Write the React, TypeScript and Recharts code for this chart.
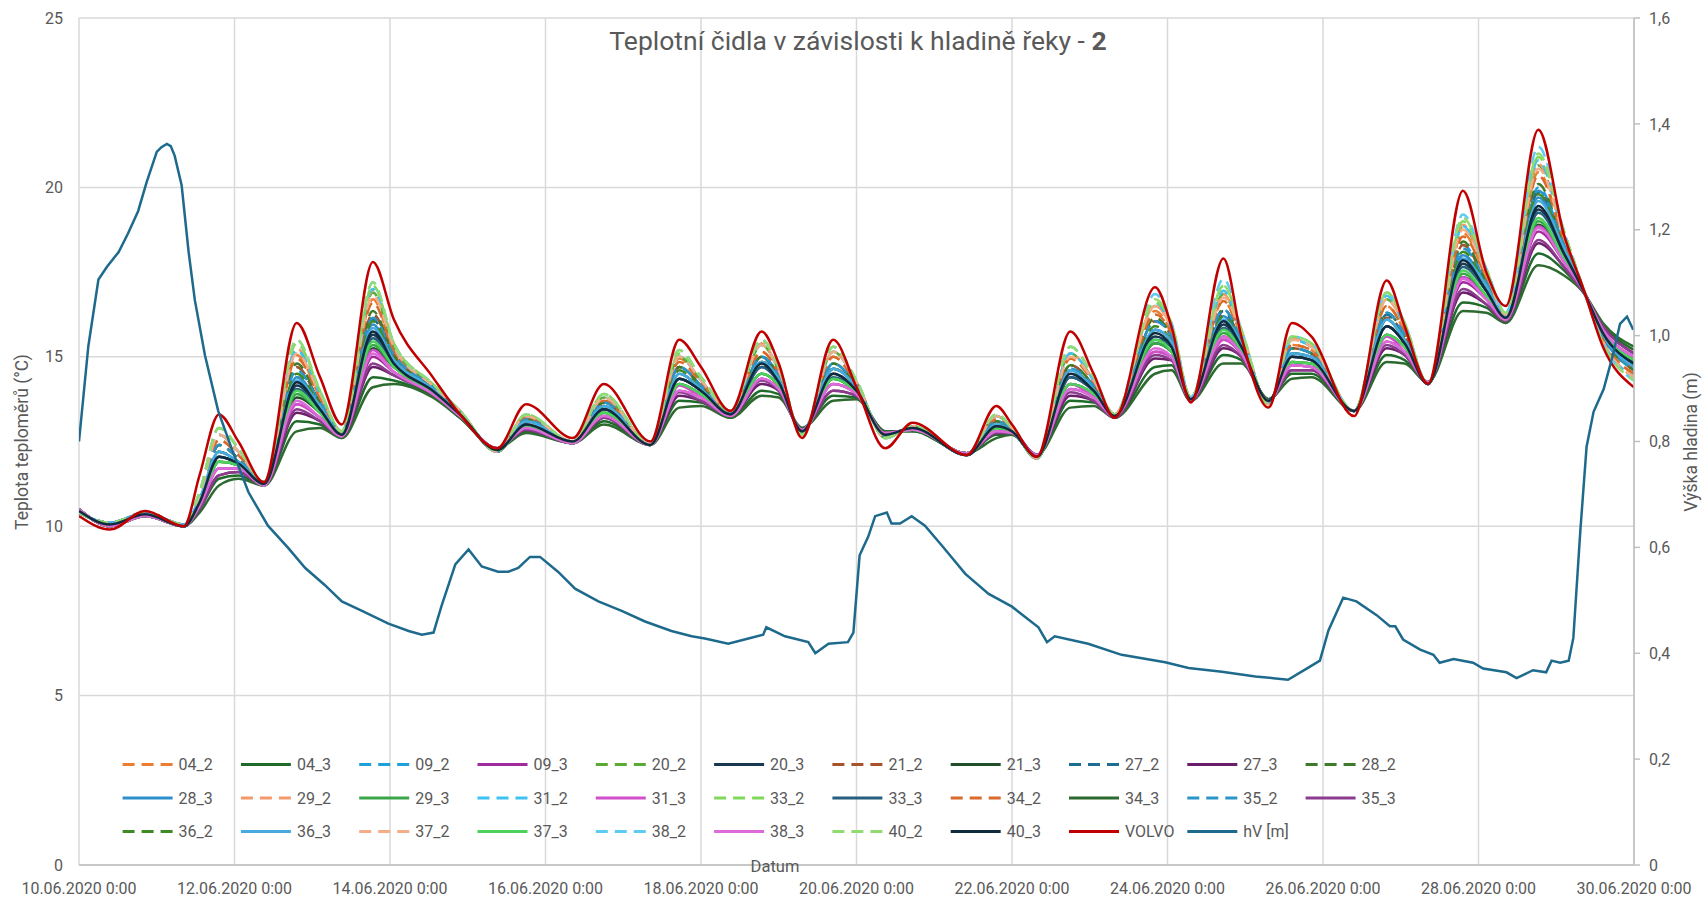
import React from 'react';
import { LineChart, Line, XAxis, YAxis, CartesianGrid } from 'recharts';

// tick labels
const dateLabels = [
  '10.06.2020 0:00', '12.06.2020 0:00', '14.06.2020 0:00', '16.06.2020 0:00',
  '18.06.2020 0:00', '20.06.2020 0:00', '22.06.2020 0:00', '24.06.2020 0:00',
  '26.06.2020 0:00', '28.06.2020 0:00', '30.06.2020 0:00',
];
const dayTicks = [0, 2, 4, 6, 8, 10, 12, 14, 16, 18, 20];
const tempTicks = [0, 5, 10, 15, 20, 25];
const levelTicks = [0, 0.2, 0.4, 0.6, 0.8, 1, 1.2, 1.4, 1.6];

// sample times (days since 10.06.2020 0:00) for the temperature sensors
const days = [
  0, 0.4, 0.85, 1.35, 1.55, 1.8, 2.05, 2.38, 2.8, 3.1,
  3.38, 3.78, 4.05, 4.55, 4.9, 5.38, 5.75, 6.35, 6.75, 7.35,
  7.72, 8.0, 8.38, 8.78, 9.0, 9.3, 9.7, 10.0, 10.37, 10.72,
  11.42, 11.8, 12.0, 12.32, 12.75, 13.05, 13.32, 13.84, 14.05, 14.3,
  14.72, 14.95, 15.3, 15.6, 15.85, 16.4, 16.82, 17.05, 17.35, 17.8,
  18.1, 18.35, 18.77, 19.1, 19.35, 19.6, 20.0,
];

const s04_2 = [10.4, 10.1, 10.4, 10.05, 10.9, 12.55, 12.1, 11.3, 15.05, 13.8, 12.75, 16.7, 15.15, 14.1, 13.35, 12.2, 13.2, 12.5, 13.7, 12.4, 14.95, 14.25, 13.35, 15.15, 14.5, 12.75, 15.0, 14.2, 12.65, 12.9, 12.1, 13.15, 12.85, 12.0, 14.95, 14.25, 13.3, 16.35, 15.7, 13.8, 16.65, 15.6, 13.65, 15.35, 15.2, 13.4, 16.5, 15.75, 14.2, 18.65, 17.35, 16.25, 20.45, 18.45, 17.0, 15.5, 14.5];
const s04_3 = [10.5, 10.0, 10.3, 10.0, 10.5, 11.4, 11.5, 11.2, 13.1, 13.0, 12.6, 14.4, 14.3, 13.85, 13.2, 12.3, 12.8, 12.45, 13.1, 12.4, 13.7, 13.65, 13.2, 14.0, 13.9, 12.9, 13.85, 13.8, 12.8, 12.8, 12.15, 12.7, 12.7, 12.1, 13.7, 13.65, 13.2, 14.7, 14.75, 13.7, 15.05, 14.9, 13.75, 14.5, 14.5, 13.4, 15.05, 14.9, 14.25, 16.6, 16.45, 16.0, 18.05, 17.55, 16.9, 15.95, 15.2];
const s09_2 = [10.4, 10.1, 10.4, 10.05, 10.8, 12.4, 12.0, 11.3, 14.7, 13.65, 12.75, 16.25, 15.05, 14.1, 13.35, 12.2, 13.15, 12.5, 13.65, 12.4, 14.7, 14.15, 13.35, 15.0, 14.45, 12.75, 14.8, 14.15, 12.65, 12.9, 12.1, 13.1, 12.85, 12.0, 14.75, 14.15, 13.25, 16.05, 15.6, 13.75, 16.4, 15.5, 13.65, 15.25, 15.1, 13.4, 16.3, 15.65, 14.2, 18.3, 17.2, 16.2, 20.0, 18.3, 16.95, 15.6, 14.6];
const s09_3 = [10.5, 10.0, 10.3, 10.0, 10.6, 11.7, 11.7, 11.2, 13.6, 13.2, 12.65, 15.0, 14.55, 13.9, 13.25, 12.3, 12.9, 12.45, 13.25, 12.4, 14.0, 13.8, 13.25, 14.35, 14.05, 12.85, 14.2, 13.9, 12.75, 12.85, 12.15, 12.8, 12.75, 12.1, 14.05, 13.8, 13.25, 15.15, 15.0, 13.75, 15.5, 15.1, 13.7, 14.75, 14.7, 13.4, 15.45, 15.15, 14.25, 17.2, 16.7, 16.1, 18.7, 17.8, 16.95, 15.8, 15.0];
const s20_2 = [10.4, 10.1, 10.4, 10.05, 10.9, 12.7, 12.2, 11.3, 15.2, 13.9, 12.8, 16.9, 15.3, 14.15, 13.4, 12.2, 13.25, 12.5, 13.8, 12.4, 15.0, 14.3, 13.4, 15.35, 14.6, 12.7, 15.15, 14.25, 12.6, 12.95, 12.1, 13.25, 12.9, 12.0, 15.1, 14.3, 13.3, 16.5, 15.85, 13.8, 16.85, 15.7, 13.6, 15.5, 15.3, 13.4, 16.7, 15.9, 14.2, 18.85, 17.45, 16.25, 20.65, 18.55, 17.0, 15.45, 14.4];
const s20_3 = [10.45, 10.05, 10.35, 10.0, 10.7, 12.05, 11.85, 11.25, 14.15, 13.45, 12.7, 15.65, 14.8, 14.0, 13.3, 12.25, 13.0, 12.5, 13.45, 12.4, 14.35, 14.0, 13.3, 14.7, 14.25, 12.8, 14.5, 14.0, 12.7, 12.9, 12.1, 12.95, 12.8, 12.05, 14.4, 14.0, 13.25, 15.6, 15.3, 13.75, 15.95, 15.3, 13.7, 15.0, 14.9, 13.4, 15.9, 15.4, 14.2, 17.75, 16.95, 16.15, 19.35, 18.05, 16.95, 15.7, 14.8];
const s21_2 = [10.4, 10.1, 10.4, 10.05, 10.8, 12.4, 12.0, 11.3, 14.7, 13.65, 12.75, 16.25, 15.05, 14.1, 13.35, 12.2, 13.15, 12.5, 13.65, 12.4, 14.7, 14.15, 13.35, 14.85, 14.45, 12.75, 14.65, 14.15, 12.65, 12.9, 12.1, 13.1, 12.85, 12.0, 14.75, 14.15, 13.25, 16.05, 15.6, 13.75, 16.25, 15.5, 13.65, 15.25, 15.1, 13.4, 16.15, 15.65, 14.2, 18.3, 17.2, 16.2, 19.85, 18.3, 16.95, 15.6, 14.6];
const s21_3 = [10.5, 10.0, 10.3, 10.0, 10.6, 11.9, 11.8, 11.2, 13.8, 13.35, 12.7, 15.25, 14.7, 13.95, 13.3, 12.25, 12.95, 12.45, 13.35, 12.4, 14.2, 13.9, 13.3, 14.5, 14.15, 12.8, 14.35, 13.95, 12.7, 12.85, 12.15, 12.9, 12.8, 12.05, 14.2, 13.9, 13.25, 15.4, 15.15, 13.75, 15.6, 15.2, 13.7, 14.85, 14.8, 13.4, 15.65, 15.3, 14.25, 17.35, 16.8, 16.1, 18.9, 17.9, 16.95, 15.75, 14.9];
const s27_2 = [10.4, 10.1, 10.4, 10.05, 10.8, 12.2, 11.9, 11.3, 14.4, 13.55, 12.7, 16.1, 14.9, 14.05, 13.3, 12.25, 13.1, 12.5, 13.55, 12.4, 14.5, 14.05, 13.3, 15.0, 14.35, 12.8, 14.65, 14.1, 12.7, 12.9, 12.1, 13.0, 12.8, 12.05, 14.6, 14.05, 13.25, 15.8, 15.45, 13.75, 16.35, 15.4, 13.65, 15.1, 15.0, 13.4, 16.25, 15.5, 14.2, 18.0, 17.1, 16.2, 19.85, 18.2, 16.95, 15.65, 14.7];
const s27_3 = [10.5, 10.0, 10.3, 10.0, 10.5, 11.5, 11.6, 11.2, 13.35, 13.1, 12.65, 14.7, 14.45, 13.9, 13.25, 12.3, 12.85, 12.45, 13.2, 12.4, 13.85, 13.7, 13.25, 14.2, 14.0, 12.85, 14.0, 13.85, 12.75, 12.85, 12.15, 12.75, 12.75, 12.1, 13.85, 13.7, 13.2, 14.95, 14.9, 13.7, 15.25, 15.0, 13.7, 14.6, 14.6, 13.4, 15.25, 15.05, 14.25, 16.9, 16.55, 16.05, 18.35, 17.65, 16.9, 15.9, 15.1];
const s28_2 = [10.4, 10.1, 10.4, 10.05, 10.8, 12.4, 12.0, 11.3, 14.8, 13.65, 12.75, 16.35, 15.05, 14.1, 13.35, 12.2, 13.15, 12.5, 13.65, 12.4, 14.7, 14.15, 13.35, 15.0, 14.45, 12.75, 14.8, 14.15, 12.65, 12.9, 12.1, 13.1, 12.85, 12.0, 14.75, 14.15, 13.25, 16.15, 15.6, 13.75, 16.4, 15.5, 13.65, 15.25, 15.1, 13.4, 16.3, 15.65, 14.2, 18.4, 17.2, 16.2, 20.1, 18.3, 16.95, 15.6, 14.6];
const s28_3 = [10.4, 10.1, 10.4, 10.05, 10.8, 12.2, 11.9, 11.3, 14.4, 13.55, 12.7, 15.95, 14.9, 14.05, 13.3, 12.25, 13.1, 12.5, 13.55, 12.4, 14.5, 14.05, 13.3, 14.85, 14.35, 12.8, 14.65, 14.1, 12.7, 12.9, 12.1, 13.0, 12.8, 12.05, 14.6, 14.05, 13.25, 15.8, 15.45, 13.75, 16.2, 15.4, 13.65, 15.1, 15.0, 13.4, 16.1, 15.5, 14.2, 18.0, 17.1, 16.2, 19.7, 18.2, 16.95, 15.65, 14.7];
const s29_2 = [10.4, 10.1, 10.4, 10.05, 10.9, 12.7, 12.2, 11.3, 15.25, 13.9, 12.8, 16.95, 15.3, 14.15, 13.4, 12.2, 13.25, 12.5, 13.8, 12.4, 15.0, 14.3, 13.4, 15.4, 14.6, 12.7, 15.15, 14.25, 12.6, 12.95, 12.1, 13.25, 12.9, 12.0, 15.1, 14.3, 13.3, 16.5, 15.85, 13.8, 16.85, 15.7, 13.6, 15.55, 15.3, 13.4, 16.7, 15.9, 14.2, 18.9, 17.45, 16.25, 20.7, 18.55, 17.0, 15.45, 14.4];
const s29_3 = [10.5, 10.0, 10.3, 10.0, 10.6, 11.9, 11.8, 11.2, 13.9, 13.35, 12.7, 15.35, 14.7, 13.95, 13.3, 12.25, 12.95, 12.45, 13.35, 12.4, 14.2, 13.9, 13.3, 14.5, 14.15, 12.8, 14.35, 13.95, 12.7, 12.85, 12.15, 12.9, 12.8, 12.05, 14.2, 13.9, 13.25, 15.4, 15.15, 13.75, 15.7, 15.2, 13.7, 14.85, 14.8, 13.4, 15.65, 15.3, 14.25, 17.45, 16.8, 16.1, 19.0, 17.9, 16.95, 15.75, 14.9];
const s31_2 = [10.4, 10.1, 10.4, 10.05, 10.9, 12.7, 12.2, 11.3, 15.2, 13.9, 12.8, 17.0, 15.3, 14.15, 13.4, 12.2, 13.25, 12.5, 13.8, 12.4, 15.0, 14.3, 13.4, 15.35, 14.6, 12.7, 15.15, 14.25, 12.6, 12.95, 12.1, 13.25, 12.9, 12.0, 15.1, 14.3, 13.3, 16.6, 15.85, 13.8, 16.95, 15.7, 13.6, 15.5, 15.3, 13.4, 16.8, 15.9, 14.2, 18.85, 17.45, 16.25, 20.8, 18.55, 17.0, 15.45, 14.4];
const s31_3 = [10.5, 10.0, 10.3, 10.0, 10.6, 11.7, 11.7, 11.2, 13.6, 13.2, 12.65, 15.2, 14.55, 13.9, 13.25, 12.3, 12.9, 12.45, 13.25, 12.4, 14.15, 13.8, 13.25, 14.35, 14.05, 12.85, 14.2, 13.9, 12.75, 12.85, 12.15, 12.8, 12.75, 12.1, 14.2, 13.8, 13.25, 15.15, 15.0, 13.75, 15.5, 15.1, 13.7, 14.75, 14.7, 13.4, 15.6, 15.15, 14.25, 17.35, 16.7, 16.1, 18.85, 17.8, 16.95, 15.8, 15.0];
const s33_2 = [10.4, 10.1, 10.4, 10.05, 11.0, 12.9, 12.3, 11.3, 15.4, 14.0, 12.8, 17.1, 15.4, 14.2, 13.4, 12.2, 13.3, 12.5, 13.9, 12.4, 15.1, 14.4, 13.4, 15.5, 14.7, 12.7, 15.3, 14.3, 12.6, 12.95, 12.1, 13.3, 12.9, 12.0, 15.3, 14.4, 13.3, 16.6, 16.0, 13.8, 17.1, 15.8, 13.6, 15.6, 15.4, 13.4, 16.9, 16.0, 14.2, 19.0, 17.6, 16.3, 20.9, 18.7, 17.0, 15.4, 14.3];
const s33_3 = [10.45, 10.05, 10.35, 10.0, 10.7, 12.05, 11.85, 11.25, 14.05, 13.45, 12.7, 15.55, 14.8, 14.0, 13.3, 12.25, 13.0, 12.5, 13.45, 12.4, 14.35, 14.0, 13.3, 14.7, 14.25, 12.8, 14.4, 14.0, 12.7, 12.9, 12.1, 12.95, 12.8, 12.05, 14.4, 14.0, 13.25, 15.5, 15.3, 13.75, 15.85, 15.3, 13.7, 15.0, 14.9, 13.4, 15.9, 15.4, 14.2, 17.65, 16.95, 16.15, 19.25, 18.05, 16.95, 15.7, 14.8];
const s34_2 = [10.4, 10.1, 10.4, 10.05, 10.9, 12.55, 12.1, 11.3, 14.95, 13.8, 12.75, 16.6, 15.15, 14.1, 13.35, 12.2, 13.2, 12.5, 13.7, 12.4, 14.85, 14.25, 13.35, 15.15, 14.5, 12.75, 15.0, 14.2, 12.65, 12.9, 12.1, 13.15, 12.85, 12.0, 14.95, 14.25, 13.3, 16.25, 15.7, 13.8, 16.65, 15.6, 13.65, 15.35, 15.2, 13.4, 16.5, 15.75, 14.2, 18.55, 17.35, 16.25, 20.35, 18.45, 17.0, 15.5, 14.5];
const s34_3 = [10.5, 10.0, 10.3, 10.0, 10.4, 11.2, 11.4, 11.2, 12.8, 12.9, 12.6, 14.1, 14.2, 13.8, 13.2, 12.3, 12.75, 12.45, 13.0, 12.4, 13.5, 13.55, 13.2, 13.85, 13.8, 12.9, 13.7, 13.75, 12.8, 12.8, 12.15, 12.6, 12.7, 12.1, 13.5, 13.55, 13.2, 14.5, 14.6, 13.7, 14.8, 14.8, 13.75, 14.35, 14.4, 13.4, 14.85, 14.8, 14.25, 16.35, 16.3, 16.0, 17.7, 17.4, 16.9, 16.0, 15.3];
const s35_2 = [10.4, 10.1, 10.4, 10.05, 10.8, 12.4, 12.0, 11.3, 14.6, 13.65, 12.75, 16.15, 15.05, 14.1, 13.35, 12.2, 13.15, 12.5, 13.65, 12.4, 14.7, 14.15, 13.35, 15.0, 14.45, 12.75, 14.8, 14.15, 12.65, 12.9, 12.1, 13.1, 12.85, 12.0, 14.65, 14.15, 13.25, 16.05, 15.6, 13.75, 16.4, 15.5, 13.65, 15.25, 15.1, 13.4, 16.3, 15.65, 14.2, 18.2, 17.2, 16.2, 19.9, 18.3, 16.95, 15.6, 14.6];
const s35_3 = [10.5, 10.0, 10.3, 10.0, 10.5, 11.5, 11.6, 11.2, 13.45, 13.1, 12.65, 14.8, 14.45, 13.9, 13.25, 12.3, 12.85, 12.45, 13.2, 12.4, 13.95, 13.7, 13.25, 14.3, 14.0, 12.85, 14.0, 13.85, 12.75, 12.85, 12.15, 12.75, 12.75, 12.1, 13.95, 13.7, 13.2, 15.05, 14.9, 13.7, 15.35, 15.0, 13.7, 14.6, 14.6, 13.4, 15.35, 15.05, 14.25, 17.0, 16.55, 16.05, 18.45, 17.65, 16.9, 15.9, 15.1];
const s36_2 = [10.4, 10.1, 10.4, 10.05, 10.8, 12.2, 11.9, 11.3, 14.5, 13.55, 12.7, 16.05, 14.9, 14.05, 13.3, 12.25, 13.1, 12.5, 13.55, 12.4, 14.6, 14.05, 13.3, 14.85, 14.35, 12.8, 14.65, 14.1, 12.7, 12.9, 12.1, 13.0, 12.8, 12.05, 14.6, 14.05, 13.25, 15.9, 15.45, 13.75, 16.2, 15.4, 13.65, 15.1, 15.0, 13.4, 16.1, 15.5, 14.2, 18.1, 17.1, 16.2, 19.8, 18.2, 16.95, 15.65, 14.7];
const s36_3 = [10.4, 10.1, 10.4, 10.05, 10.8, 12.2, 11.9, 11.3, 14.3, 13.55, 12.7, 15.85, 14.9, 14.05, 13.3, 12.25, 13.1, 12.5, 13.55, 12.4, 14.5, 14.05, 13.3, 14.85, 14.35, 12.8, 14.65, 14.1, 12.7, 12.9, 12.1, 13.0, 12.8, 12.05, 14.6, 14.05, 13.25, 15.8, 15.45, 13.75, 16.1, 15.4, 13.65, 15.1, 15.0, 13.4, 16.1, 15.5, 14.2, 17.9, 17.1, 16.2, 19.6, 18.2, 16.95, 15.65, 14.7];
const s37_2 = [10.4, 10.1, 10.4, 10.05, 10.9, 12.7, 12.2, 11.3, 15.1, 13.9, 12.8, 16.8, 15.3, 14.15, 13.4, 12.2, 13.25, 12.5, 13.8, 12.4, 15.0, 14.3, 13.4, 15.35, 14.6, 12.7, 15.15, 14.25, 12.6, 12.95, 12.1, 13.25, 12.9, 12.0, 15.0, 14.3, 13.3, 16.5, 15.85, 13.8, 16.75, 15.7, 13.6, 15.5, 15.3, 13.4, 16.7, 15.9, 14.2, 18.75, 17.45, 16.25, 20.55, 18.55, 17.0, 15.45, 14.4];
const s37_3 = [10.5, 10.0, 10.3, 10.0, 10.6, 11.9, 11.8, 11.2, 14.0, 13.35, 12.7, 15.45, 14.7, 13.95, 13.3, 12.25, 12.95, 12.45, 13.35, 12.4, 14.2, 13.9, 13.3, 14.5, 14.15, 12.8, 14.35, 13.95, 12.7, 12.85, 12.15, 12.9, 12.8, 12.05, 14.2, 13.9, 13.25, 15.5, 15.15, 13.75, 15.8, 15.2, 13.7, 14.85, 14.8, 13.4, 15.65, 15.3, 14.25, 17.55, 16.8, 16.1, 19.1, 17.9, 16.95, 15.75, 14.9];
const s38_2 = [10.4, 10.1, 10.4, 10.05, 11.0, 12.9, 12.3, 11.3, 15.5, 14.0, 12.8, 17.2, 15.4, 14.2, 13.4, 12.2, 13.3, 12.5, 13.9, 12.4, 15.2, 14.4, 13.4, 15.5, 14.7, 12.7, 15.3, 14.3, 12.6, 12.95, 12.1, 13.3, 12.9, 12.0, 15.3, 14.4, 13.3, 16.85, 16.0, 13.8, 17.3, 15.8, 13.6, 15.6, 15.4, 13.4, 16.9, 16.0, 14.2, 19.2, 17.6, 16.3, 21.2, 18.7, 17.0, 15.4, 14.3];
const s38_3 = [10.5, 10.0, 10.3, 10.0, 10.6, 11.7, 11.7, 11.2, 13.7, 13.2, 12.65, 15.1, 14.55, 13.9, 13.25, 12.3, 12.9, 12.45, 13.25, 12.4, 14.0, 13.8, 13.25, 14.35, 14.05, 12.85, 14.2, 13.9, 12.75, 12.85, 12.15, 12.8, 12.75, 12.1, 14.05, 13.8, 13.25, 15.25, 15.0, 13.75, 15.6, 15.1, 13.7, 14.75, 14.7, 13.4, 15.45, 15.15, 14.25, 17.3, 16.7, 16.1, 18.8, 17.8, 16.95, 15.8, 15.0];
const s40_2 = [10.4, 10.1, 10.4, 10.05, 11.0, 12.9, 12.3, 11.3, 15.5, 14.0, 12.8, 17.2, 15.4, 14.2, 13.4, 12.2, 13.3, 12.5, 13.9, 12.4, 15.2, 14.4, 13.4, 15.5, 14.7, 12.7, 15.3, 14.3, 12.6, 12.95, 12.1, 13.3, 12.9, 12.0, 15.3, 14.4, 13.3, 16.7, 16.0, 13.8, 17.1, 15.8, 13.6, 15.6, 15.4, 13.4, 16.9, 16.0, 14.2, 19.1, 17.6, 16.3, 21.0, 18.7, 17.0, 15.4, 14.3];
const s40_3 = [10.45, 10.05, 10.35, 10.0, 10.7, 12.05, 11.85, 11.25, 14.25, 13.45, 12.7, 15.75, 14.8, 14.0, 13.3, 12.25, 13.0, 12.5, 13.45, 12.4, 14.35, 14.0, 13.3, 14.8, 14.25, 12.8, 14.5, 14.0, 12.7, 12.9, 12.1, 12.95, 12.8, 12.05, 14.5, 14.0, 13.25, 15.7, 15.3, 13.75, 16.05, 15.3, 13.7, 15.0, 14.9, 13.4, 15.9, 15.4, 14.2, 17.85, 16.95, 16.15, 19.45, 18.05, 16.95, 15.7, 14.8];
const volvo = [10.3, 9.9, 10.45, 10.0, 11.5, 13.3, 12.5, 11.3, 16.0, 14.4, 13.0, 17.8, 16.1, 14.4, 13.3, 12.3, 13.6, 12.6, 14.2, 12.5, 15.5, 14.7, 13.4, 15.75, 14.8, 12.6, 15.5, 14.1, 12.3, 13.05, 12.1, 13.55, 13.0, 12.05, 15.75, 14.5, 13.2, 17.05, 15.9, 13.65, 17.9, 15.6, 13.5, 16.0, 15.6, 13.25, 17.25, 15.9, 14.2, 19.9, 17.5, 16.5, 21.7, 18.6, 17.0, 15.3, 14.1];

// river level hV [m], own time base
const hvDays = [
  0, 0.12, 0.25, 0.36, 0.51, 0.63, 0.76, 0.87, 1.0, 1.06, 1.13, 1.18, 1.23, 1.32, 1.41, 1.49, 1.62, 1.79, 1.96,
  2.18, 2.43, 2.69, 2.91, 3.16, 3.38, 3.64, 3.98, 4.24, 4.41, 4.56, 4.66, 4.84, 5.01, 5.18, 5.39,
  5.52, 5.65, 5.8, 5.93, 6.16, 6.38, 6.68, 6.98, 7.28, 7.62, 7.88, 8.05, 8.35, 8.61, 8.8, 8.84,
  9.08, 9.38, 9.47, 9.64, 9.89, 9.96, 10.04, 10.15, 10.24, 10.39, 10.45, 10.56, 10.71, 10.88, 11.1,
  11.4, 11.7, 12.0, 12.34, 12.45, 12.55, 12.98, 13.41, 13.97, 14.27, 14.7, 15.13, 15.36, 15.55,
  15.79, 15.96, 16.07, 16.26, 16.43, 16.69, 16.86, 16.93, 17.03, 17.25, 17.42, 17.5, 17.68, 17.93,
  18.06, 18.36, 18.49, 18.7, 18.87, 18.94, 19.05, 19.16, 19.22, 19.31, 19.39, 19.48, 19.61, 19.73,
  19.82, 19.91, 19.99,
];
const hvLevel = [
  0.8, 0.98, 1.106, 1.13, 1.158, 1.193, 1.235, 1.29, 1.347, 1.356, 1.362, 1.358, 1.34, 1.284, 1.158, 1.067, 0.963, 0.858, 0.788,
  0.704, 0.641, 0.599, 0.561, 0.529, 0.498, 0.48, 0.456, 0.442, 0.435, 0.439, 0.488, 0.568, 0.596, 0.564, 0.554,
  0.554, 0.561, 0.582, 0.582, 0.554, 0.522, 0.498, 0.48, 0.46, 0.442, 0.432, 0.428, 0.418, 0.428, 0.435, 0.449,
  0.432, 0.421, 0.4, 0.418, 0.421, 0.439, 0.585, 0.62, 0.659, 0.666, 0.645, 0.645, 0.659, 0.641, 0.603,
  0.55, 0.512, 0.488, 0.449, 0.421, 0.432, 0.418, 0.397, 0.383, 0.372, 0.365, 0.356, 0.353, 0.35,
  0.371, 0.386, 0.443, 0.505, 0.498, 0.472, 0.451, 0.451, 0.426, 0.407, 0.397, 0.382, 0.389, 0.382,
  0.371, 0.364, 0.353, 0.368, 0.364, 0.386, 0.382, 0.386, 0.429, 0.632, 0.79, 0.856, 0.899, 0.964,
  1.022, 1.036, 1.011,
];

const series = [
  { key: 's04_2', name: '04_2', color: '#ED7D31', dashed: true, values: s04_2 },
  { key: 's04_3', name: '04_3', color: '#1F6B2A', dashed: false, values: s04_3 },
  { key: 's09_2', name: '09_2', color: '#1FA0DA', dashed: true, values: s09_2 },
  { key: 's09_3', name: '09_3', color: '#A12B9C', dashed: false, values: s09_3 },
  { key: 's20_2', name: '20_2', color: '#5BAA34', dashed: true, values: s20_2 },
  { key: 's20_3', name: '20_3', color: '#173A52', dashed: false, values: s20_3 },
  { key: 's21_2', name: '21_2', color: '#A8522A', dashed: true, values: s21_2 },
  { key: 's21_3', name: '21_3', color: '#22502A', dashed: false, values: s21_3 },
  { key: 's27_2', name: '27_2', color: '#1C6F91', dashed: true, values: s27_2 },
  { key: 's27_3', name: '27_3', color: '#6B1F6B', dashed: false, values: s27_3 },
  { key: 's28_2', name: '28_2', color: '#3E7A2A', dashed: true, values: s28_2 },
  { key: 's28_3', name: '28_3', color: '#2E8FCB', dashed: false, values: s28_3 },
  { key: 's29_2', name: '29_2', color: '#F29A6A', dashed: true, values: s29_2 },
  { key: 's29_3', name: '29_3', color: '#3AA64A', dashed: false, values: s29_3 },
  { key: 's31_2', name: '31_2', color: '#3EC1F3', dashed: true, values: s31_2 },
  { key: 's31_3', name: '31_3', color: '#D24FCB', dashed: false, values: s31_3 },
  { key: 's33_2', name: '33_2', color: '#7FD85A', dashed: true, values: s33_2 },
  { key: 's33_3', name: '33_3', color: '#275F7F', dashed: false, values: s33_3 },
  { key: 's34_2', name: '34_2', color: '#D96A2B', dashed: true, values: s34_2 },
  { key: 's34_3', name: '34_3', color: '#2D6A2F', dashed: false, values: s34_3 },
  { key: 's35_2', name: '35_2', color: '#2A95C8', dashed: true, values: s35_2 },
  { key: 's35_3', name: '35_3', color: '#8B3C8D', dashed: false, values: s35_3 },
  { key: 's36_2', name: '36_2', color: '#3F8A25', dashed: true, values: s36_2 },
  { key: 's36_3', name: '36_3', color: '#47ABE0', dashed: false, values: s36_3 },
  { key: 's37_2', name: '37_2', color: '#F4AD87', dashed: true, values: s37_2 },
  { key: 's37_3', name: '37_3', color: '#4CD15B', dashed: false, values: s37_3 },
  { key: 's38_2', name: '38_2', color: '#5ECBF3', dashed: true, values: s38_2 },
  { key: 's38_3', name: '38_3', color: '#DC6AD8', dashed: false, values: s38_3 },
  { key: 's40_2', name: '40_2', color: '#92DB70', dashed: true, values: s40_2 },
  { key: 's40_3', name: '40_3', color: '#0F2B3D', dashed: false, values: s40_3 },
  { key: 'volvo', name: 'VOLVO', color: '#C00000', dashed: false, values: volvo },
];
const hvColor = '#1E6A8D';

const tempRows = days.map((t, i) => {
  const row: Record<string, number> = { t };
  series.forEach((s) => {
    row[s.key] = s.values[i];
  });
  return row;
});
const hvRows = hvDays.map((t, i) => ({ t, hv: hvLevel[i] }));

const legendItems = [
  ...series.map((s) => ({ name: s.name, color: s.color, dashed: s.dashed })),
  { name: 'hV [m]', color: hvColor, dashed: false },
];

const DASH = '12 7';
const textColor = '#595959';
const fontFamily = 'Roboto, "Noto Sans", sans-serif';

function ChartLegend() {
  return (
    <g>
      {legendItems.map((item, i) => {
        const col = i % 11;
        const row = Math.floor(i / 11);
        const x = 122.6 + col * 118.3;
        const y = 764.5 + row * 33.5;
        return (
          <g key={item.name}>
            <line
              x1={x}
              x2={x + 50}
              y1={y}
              y2={y}
              stroke={item.color}
              strokeWidth={3}
              strokeDasharray={item.dashed ? DASH : undefined}
            />
            <text x={x + 56} y={y} dominantBaseline="central" fontSize={16} fill={textColor}>
              {item.name}
            </text>
          </g>
        );
      })}
    </g>
  );
}

export default function App() {
  return (
    <div style={{ position: 'relative', width: 1702, height: 901, fontFamily, background: '#fff' }}>
      <style>{'body { margin: 0; }'}</style>
      <LineChart width={1702} height={901} margin={{ top: 18, right: 0, left: 0, bottom: 0 }}>
        <CartesianGrid
          yAxisId="left"
          stroke="#D9D9D9"
          strokeWidth={1.5}
          horizontalValues={tempTicks}
          verticalValues={dayTicks}
        />
        <XAxis
          dataKey="t"
          type="number"
          domain={[0, 20]}
          ticks={dayTicks}
          allowDataOverflow
          height={36}
          tickLine={false}
          tickSize={8}
          tickMargin={10}
          stroke="#BFBFBF"
          strokeWidth={1.5}
          tick={{ fill: textColor, fontSize: 16 }}
          tickFormatter={(v: number) => dateLabels[Math.round(v / 2)]}
        />
        <YAxis
          yAxisId="left"
          orientation="left"
          domain={[0, 25]}
          ticks={tempTicks}
          width={79}
          axisLine={false}
          tickLine={false}
          tickSize={6}
          tickMargin={10}
          tick={{ fill: textColor, fontSize: 16 }}
        />
        <YAxis
          yAxisId="right"
          orientation="right"
          domain={[0, 1.6]}
          ticks={levelTicks}
          width={68}
          stroke="#BFBFBF"
          strokeWidth={1.5}
          tickSize={6}
          tickMargin={9}
          tick={{ fill: textColor, fontSize: 16 }}
          tickFormatter={(v: number) => (v === 0 ? '0' : v.toFixed(1).replace('.', ','))}
        />
        {series.map((s) => (
          <Line
            key={s.key}
            yAxisId="left"
            data={tempRows}
            dataKey={s.key}
            name={s.name}
            type="monotone"
            stroke={s.color}
            strokeWidth={2.5}
            strokeDasharray={s.dashed ? DASH : undefined}
            dot={false}
            activeDot={false}
            isAnimationActive={false}
          />
        ))}
        <Line
          yAxisId="right"
          data={hvRows}
          dataKey="hv"
          name="hV [m]"
          type="linear"
          stroke={hvColor}
          strokeWidth={2.5}
          dot={false}
          activeDot={false}
          isAnimationActive={false}
        />
      </LineChart>
      <svg
        width={1702}
        height={901}
        style={{ position: 'absolute', left: 0, top: 0, pointerEvents: 'none', fontFamily }}
      >
        <text x={858} y={40} textAnchor="middle" dominantBaseline="central" fontSize={26.5} fill={textColor}>
          Teplotní čidla v závislosti k hladině řeky - <tspan fontWeight="bold">2</tspan>
        </text>
        <text
          transform="translate(22, 442) rotate(-90)"
          textAnchor="middle"
          dominantBaseline="central"
          fontSize={17.5}
          fill={textColor}
        >
          Teplota teploměrů (°C)
        </text>
        <text
          transform="translate(1691, 442) rotate(-90)"
          textAnchor="middle"
          dominantBaseline="central"
          fontSize={17.5}
          fill={textColor}
        >
          Výška hladina (m)
        </text>
        <text x={775} y={866} textAnchor="middle" dominantBaseline="central" fontSize={16.5} fill={textColor}>
          Datum
        </text>
        <ChartLegend />
      </svg>
    </div>
  );
}
